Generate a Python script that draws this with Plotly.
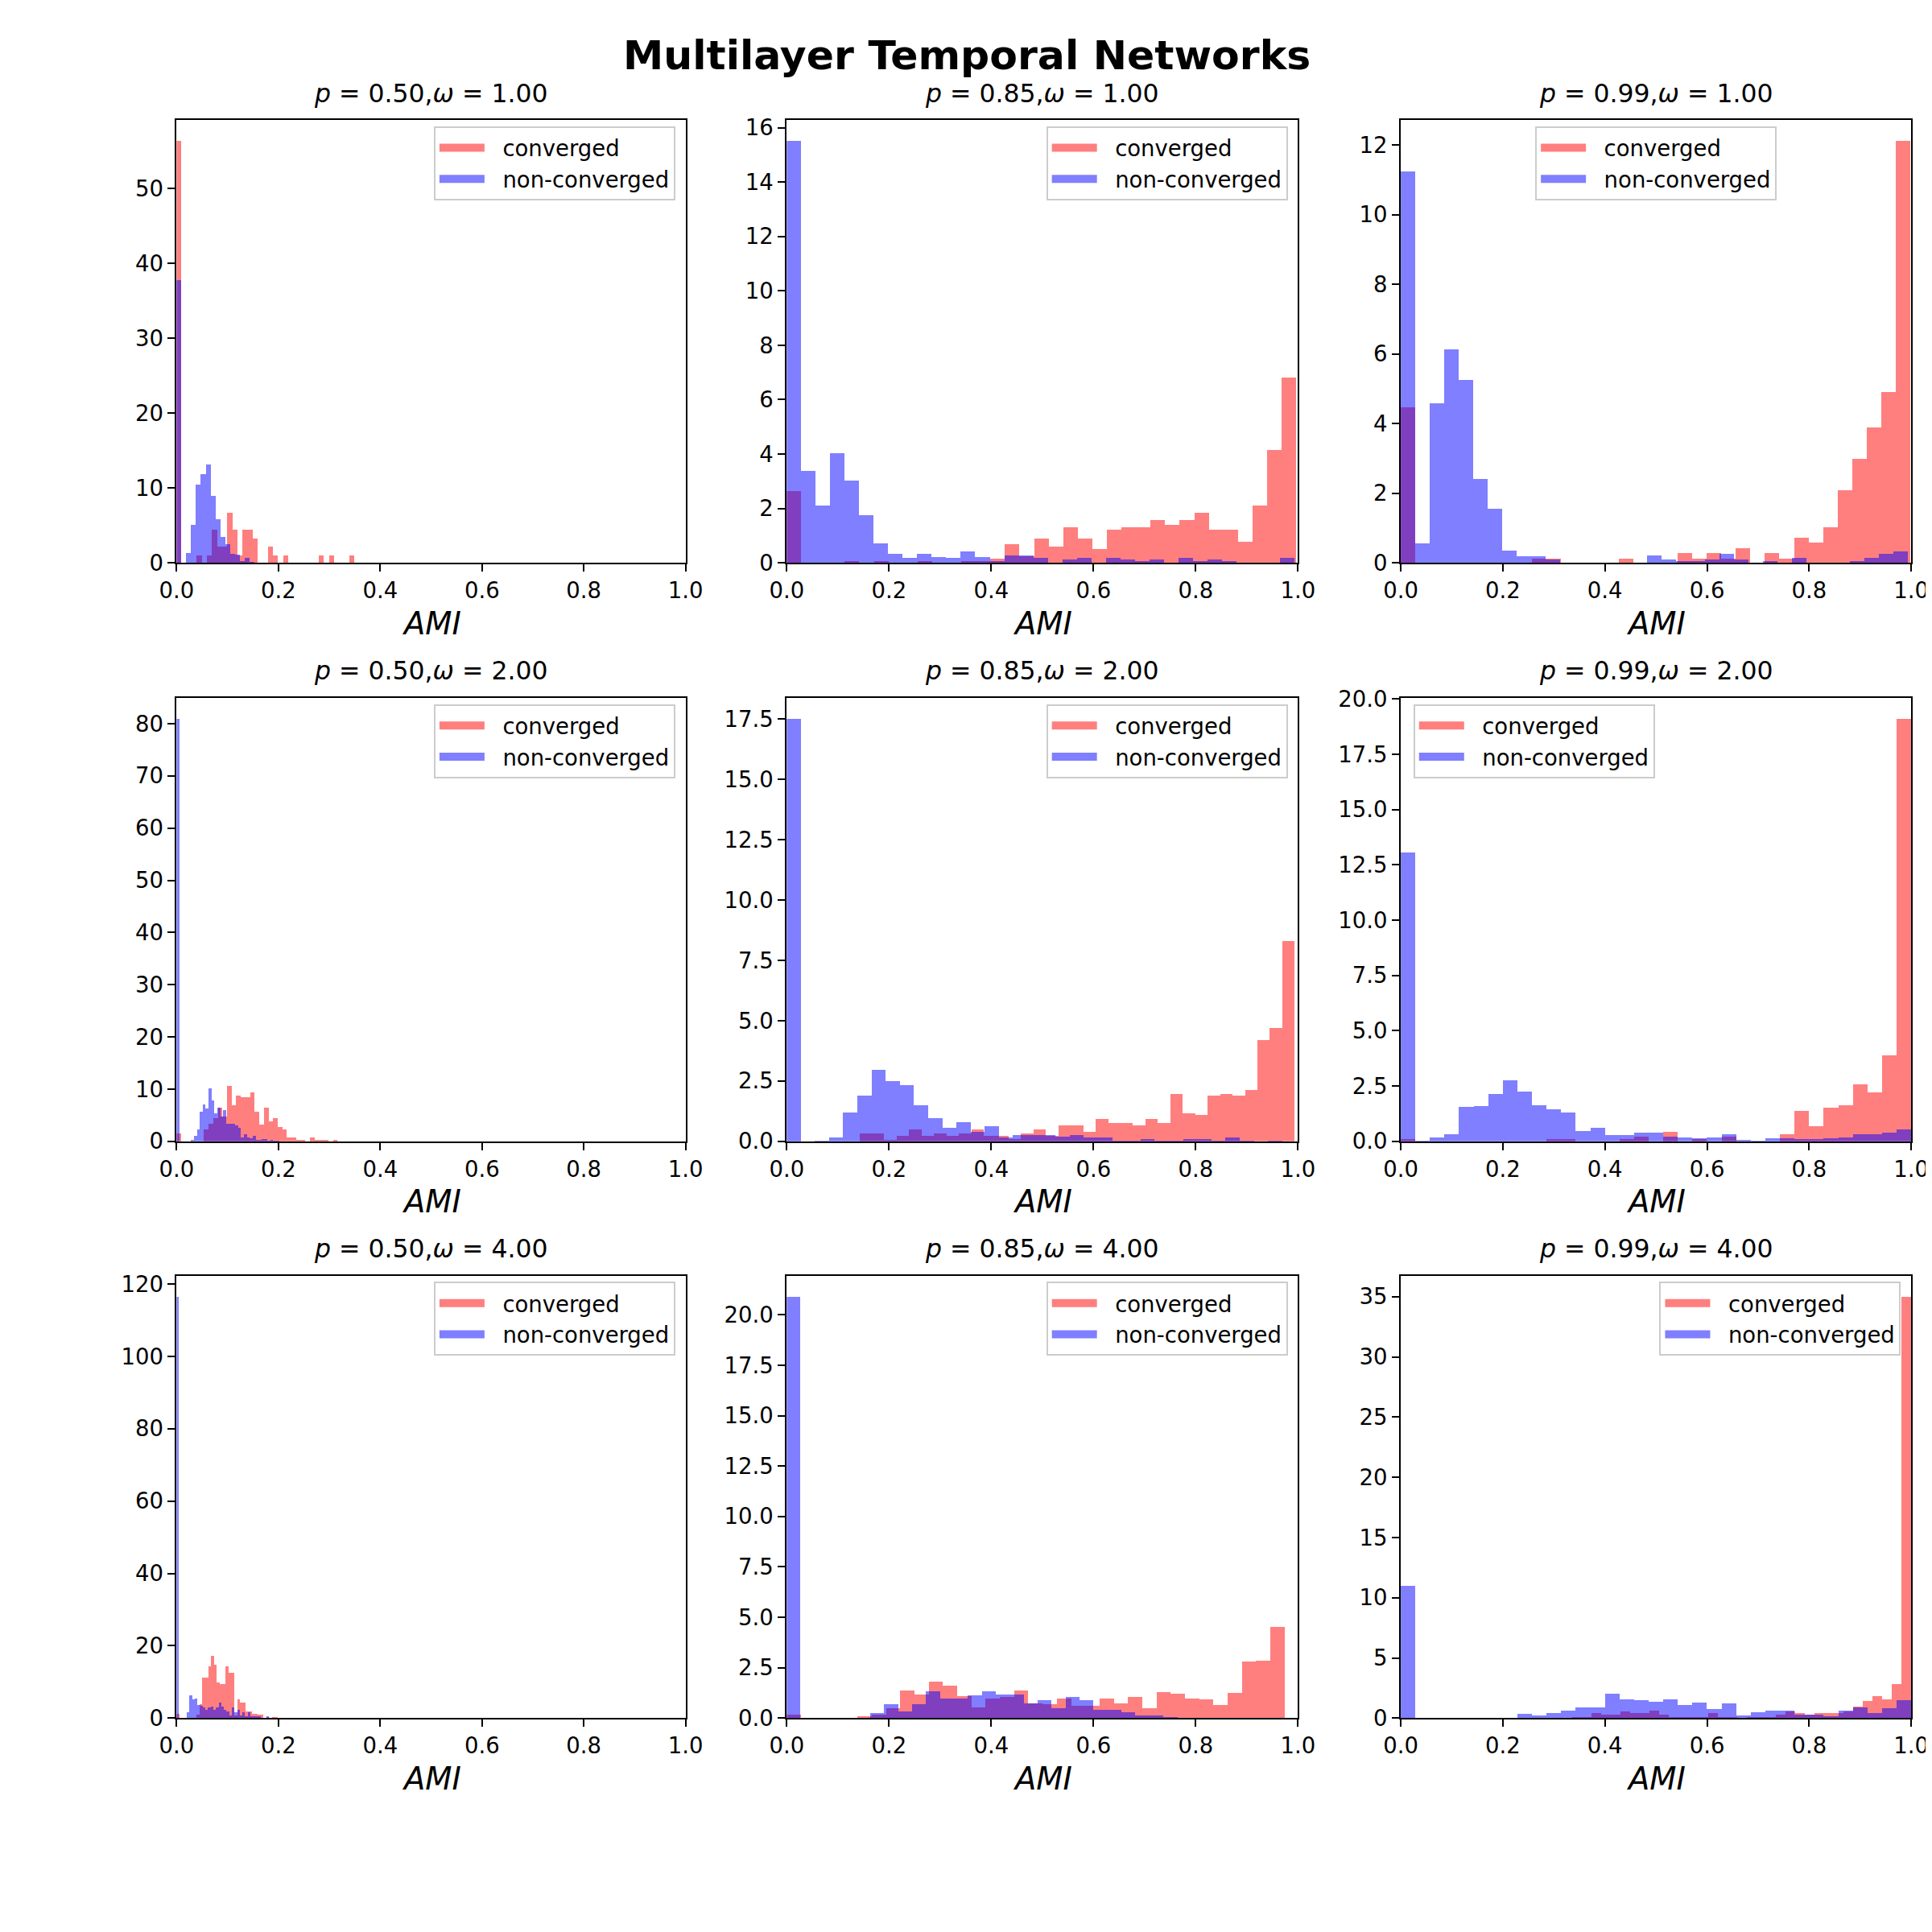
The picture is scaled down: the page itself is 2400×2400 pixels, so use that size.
import numpy as np
import plotly.graph_objects as go

p_labels = ["0.50", "0.85", "0.99"]
omega_labels = ["1.00", "2.00", "4.00"]

# density of each of the 35 histogram bins
# range = [first bin edge, last bin edge]

# p = 0.50, omega = 1
conv_p050_w1 = [56.3, 0, 0, 0, 0.9, 0, 0.9, 4.4, 2.1, 2.1, 6.6, 4.4, 0.9, 4.4, 4.4, 3.2, 0, 0,
                2.1, 0.9, 0, 0.9, 0, 0, 0, 0, 0, 0, 0.9, 0, 0.9, 0, 0, 0, 0.9]
conv_p050_w1_range = [0.0, 0.350]
nonconv_p050_w1 = [37.7, 0, 1.3, 5.0, 10.4, 11.8, 13.1, 8.9, 5.8, 3.4, 2.5, 1.2, 1.1, 0.2, 0.6, 0.1,
                   0, 0, 0, 0, 0, 0, 0, 0, 0, 0, 0, 0, 0, 0, 0, 0, 0, 0, 0]
nonconv_p050_w1_range = [0.0, 0.337]

# p = 0.85, omega = 1
conv_p085_w1 = [2.62, 0, 0, 0, 0.06, 0, 0.06, 0, 0, 0.06, 0, 0, 0.06, 0.06, 0.15, 0.68, 0.23, 0.87,
                0.6, 1.3, 0.87, 0.51, 1.22, 1.3, 1.3, 1.56, 1.39, 1.56, 1.83, 1.21, 1.21, 0.77, 2.09,
                4.15, 6.79]
conv_p085_w1_range = [0.0, 0.997]
nonconv_p085_w1 = [15.5, 3.37, 2.09, 4.01, 3.0, 1.74, 0.70, 0.32, 0.17, 0.32, 0.2, 0.17, 0.41, 0.2,
                   0.06, 0.26, 0.26, 0.17, 0, 0.11, 0.17, 0, 0.17, 0.11, 0.06, 0.11, 0, 0.17, 0.06,
                   0.11, 0.06, 0, 0, 0, 0.17]
nonconv_p085_w1_range = [0.0, 0.994]

# p = 0.99, omega = 1
conv_p099_w1 = [4.47, 0, 0, 0, 0, 0, 0, 0, 0, 0.11, 0.11, 0, 0, 0, 0, 0.11, 0, 0, 0, 0.27, 0.11,
                0.27, 0.11, 0.41, 0, 0.27, 0.11, 0.72, 0.57, 1.01, 2.07, 2.97, 3.87, 4.91, 12.11]
conv_p099_w1_range = [0.0, 0.9986]
nonconv_p099_w1 = [11.23, 0.55, 4.58, 6.12, 5.25, 2.41, 1.54, 0.34, 0.19, 0.19, 0.09, 0, 0, 0, 0, 0,
                   0, 0.2, 0.09, 0.04, 0.04, 0.09, 0.25, 0.09, 0, 0.04, 0, 0.13, 0, 0, 0, 0.04,
                   0.13, 0.25, 0.31]
nonconv_p099_w1_range = [0.0, 0.993]

# p = 0.50, omega = 2
conv_p050_w2 = [1.5, 0, 0, 0, 0, 0, 2.3, 3.4, 4.4, 6.4, 4.8, 10.6, 6.9, 8.8, 8.4, 8.4, 9.3, 5.6, 3.2,
                6.5, 3.9, 4.4, 2.8, 2.3, 0.8, 0.8, 0.3, 0.3, 0, 0.8, 0.3, 0.3, 0.3, 0, 0.3]
conv_p050_w2_range = [0.0, 0.317]
nonconv_p050_w2 = [80.9, 0, 0, 0, 0, 0.3, 1.1, 2.3, 5.6, 7.1, 6.3, 10.1, 7.8, 5.4, 6.4, 4.8, 6.0,
                   3.4, 3.4, 3.4, 3.0, 2.6, 0.8, 1.3, 0.8, 0.6, 1.0, 0.3, 0.3, 0.4, 0.4, 0.2, 0.3,
                   0.1, 0.2]
nonconv_p050_w2_range = [0.0, 0.202]

# p = 0.85, omega = 2
conv_p085_w2 = [0.34, 0.34, 0.06, 0.23, 0.5, 0.23, 0.34, 0.23, 0.34, 0.5, 0.23, 0.23, 0.1, 0.34,
                0.5, 0.23, 0.66, 0.66, 0.4, 0.93, 0.77, 0.77, 0.66, 0.93, 0.77, 1.96, 1.17, 1.11,
                1.88, 1.96, 1.88, 2.14, 4.21, 4.69, 8.29]
conv_p085_w2_range = [0.1426, 0.994]
nonconv_p085_w2 = [17.5, 0, 0.04, 0.17, 1.21, 1.9, 2.96, 2.51, 2.33, 1.49, 0.96, 0.55, 0.79, 0.38,
                   0.63, 0.17, 0.26, 0.26, 0.26, 0.19, 0.26, 0.17, 0.17, 0.04, 0.04, 0.1, 0.04,
                   0.04, 0.1, 0.1, 0.04, 0.17, 0.04, 0, 0.04]
nonconv_p085_w2_range = [0.0, 0.9695]

# p = 0.99, omega = 2
conv_p099_w2 = [0.11, 0, 0, 0, 0, 0, 0, 0, 0, 0, 0.11, 0.11, 0, 0, 0, 0.11, 0.21, 0, 0.43, 0, 0.11,
                0, 0.21, 0, 0, 0, 0.32, 1.38, 0.68, 1.53, 1.63, 2.57, 2.21, 3.89, 19.1]
conv_p099_w2_range = [0.0, 1.0]
nonconv_p099_w2 = [13.08, 0.03, 0.18, 0.32, 1.56, 1.6, 2.14, 2.75, 2.25, 1.63, 1.44, 1.31, 0.47,
                   0.61, 0.29, 0.29, 0.39, 0.39, 0.21, 0.18, 0.14, 0.18, 0.32, 0.07, 0.03, 0.14,
                   0.14, 0.11, 0.11, 0.14, 0.18, 0.32, 0.32, 0.38, 0.54]
nonconv_p099_w2_range = [0.0, 1.0]

# p = 0.50, omega = 4
conv_p050_w4 = [1.4, 0, 0, 0, 0, 0, 0, 1.0, 4.0, 11.3, 11.3, 14.4, 17.3, 14.8, 9.9, 9.5, 9.5, 14.4,
                12.7, 12.7, 0.8, 5.3, 4.4, 4.4, 1.9, 1.9, 1.4, 1.4, 1.0, 1.0, 0, 0.4, 0, 0.4, 0.4]
conv_p050_w4_range = [0.0, 0.1995]
nonconv_p050_w4 = [116.5, 0, 0, 0, 1.7, 6.3, 5.3, 5.5, 3.8, 3.6, 3.0, 2.5, 3.0, 3.4, 2.5, 3.1, 4.4,
                   3.4, 2.3, 1.9, 0.8, 3.0, 1.7, 2.5, 0.8, 1.7, 0.7, 1.7, 0.7, 0.7, 0.7, 0.7, 0, 0,
                   0.7]
nonconv_p050_w4_range = [0.0, 0.182]

# p = 0.85, omega = 4
conv_p085_w4 = [0.2, 0, 0, 0, 0, 0.1, 0.2, 0.53, 1.4, 1.18, 1.82, 1.62, 1.1, 0.56, 0.98, 1.09, 1.4,
                0.76, 0.7, 0.98, 0.65, 0.65, 0.98, 0.74, 1.06, 0.53, 1.32, 1.23, 0.98, 0.94, 0.67,
                1.25, 2.81, 2.86, 4.56]
conv_p085_w4_range = [0.0, 0.974]
nonconv_p085_w4 = [20.9, 0, 0, 0, 0, 0, 0.27, 0.71, 0.35, 0.71, 1.35, 0.98, 0.98, 1.14, 1.35, 1.18,
                   1.18, 0.76, 0.91, 0.53, 1.06, 0.91, 0.43, 0.43, 0.33, 0.15, 0.15, 0.08, 0, 0.05,
                   0, 0, 0, 0.05, 0.05]
nonconv_p085_w4_range = [0.0, 0.9555]

# p = 0.99, omega = 4
conv_p099_w4 = [0.1, 0.1, 0.46, 0.3, 0.3, 0.6, 0.46, 0.46, 0.66, 0.3, 0.1, 0.1, 0.1, 0.1, 0.46, 0.1,
                0.1, 0, 0.1, 0.1, 0.1, 0.3, 0.6, 0.46, 0.3, 0.46, 0.46, 0.46, 0.6, 1.0, 1.45, 1.86,
                1.58, 2.87, 35.0]
conv_p099_w4_range = [0.336, 1.0]
nonconv_p099_w4 = [11.0, 0, 0, 0, 0, 0, 0, 0, 0.38, 0.25, 0.46, 0.66, 0.94, 0.94, 2.06, 1.58, 1.53,
                   1.4, 1.58, 1.12, 1.32, 0.79, 1.25, 0.25, 0.53, 0.66, 0.66, 0.33, 0.33, 0.2, 0.66,
                   0.94, 0.46, 0.86, 1.53]
nonconv_p099_w4_range = [0.0, 1.0]

# rows = omega, cols = p
panels = [
    (conv_p050_w1, conv_p050_w1_range, nonconv_p050_w1, nonconv_p050_w1_range),
    (conv_p085_w1, conv_p085_w1_range, nonconv_p085_w1, nonconv_p085_w1_range),
    (conv_p099_w1, conv_p099_w1_range, nonconv_p099_w1, nonconv_p099_w1_range),
    (conv_p050_w2, conv_p050_w2_range, nonconv_p050_w2, nonconv_p050_w2_range),
    (conv_p085_w2, conv_p085_w2_range, nonconv_p085_w2, nonconv_p085_w2_range),
    (conv_p099_w2, conv_p099_w2_range, nonconv_p099_w2, nonconv_p099_w2_range),
    (conv_p050_w4, conv_p050_w4_range, nonconv_p050_w4, nonconv_p050_w4_range),
    (conv_p085_w4, conv_p085_w4_range, nonconv_p085_w4, nonconv_p085_w4_range),
    (conv_p099_w4, conv_p099_w4_range, nonconv_p099_w4, nonconv_p099_w4_range),
]

# ---- layout ----
# positions are page pixels (the figure sits 8px in, behind the page margin)
W = H = 2400
OFF = 8
col_px = [(201, 845), (973, 1620), (1750, 2396)]
row_px = [(136, 693), (863, 1421), (1590, 2147)]
y_dtick = [10, 2, 2, 10, 2.5, 2.5, 20, 2.5, 5]
y_fmt = ["d", "d", "d", "d", ".1f", ".1f", "d", ".1f", "d"]
legend_loc = ["right", "right", "center", "right", "right", "left", "right", "right", "right"]

FONT = "DejaVu Sans"
RED = "rgba(255,0,0,0.5)"
BLUE = "rgba(0,0,255,0.5)"
GAP = "\u00a0\u00a0"  # space between legend key and its label


def px_x(v):
    return (v - OFF) / W


def px_y(v):
    return 1 - (v - OFF) / H


def bars(heights, rng):
    edges = np.linspace(rng[0], rng[1], len(heights) + 1)
    centers = (edges[:-1] + edges[1:]) / 2
    return centers, edges[1] - edges[0]


fig = go.Figure()
layout = dict(
    width=W, height=H,
    margin=dict(l=0, r=0, t=0, b=0),
    paper_bgcolor="white", plot_bgcolor="white",
    barmode="overlay", bargap=0,
    font=dict(family=FONT, color="black"),
    annotations=[],
)

for k, (conv, conv_rng, nonconv, nonconv_rng) in enumerate(panels):
    r, c = divmod(k, 3)
    sfx = "" if k == 0 else str(k + 1)
    leg = "legend" + sfx
    xa, ya = "x" + sfx, "y" + sfx

    xc, wc = bars(conv, conv_rng)
    fig.add_trace(go.Bar(x=xc, y=conv, width=wc, name="converged", showlegend=False,
                         marker=dict(color=RED, line=dict(width=0)),
                         xaxis=xa, yaxis=ya))
    xn, wn = bars(nonconv, nonconv_rng)
    fig.add_trace(go.Bar(x=xn, y=nonconv, width=wn, name="non-converged", showlegend=False,
                         marker=dict(color=BLUE, line=dict(width=0)),
                         xaxis=xa, yaxis=ya))
    # legend keys drawn as thick strokes, like matplotlib's patch handles
    for name, col in (("converged", RED), ("non-converged", BLUE)):
        fig.add_trace(go.Scatter(x=[None], y=[None], mode="lines", name=GAP + name,
                                 line=dict(color=col, width=20),
                                 xaxis=xa, yaxis=ya, legend=leg))

    x0, x1 = col_px[c]
    y0, y1 = row_px[r]
    ymax = 1.05 * max(max(conv), max(nonconv))

    axis_common = dict(showline=True, linecolor="black", linewidth=2, mirror=True,
                       ticks="outside", ticklen=9, tickwidth=2, tickcolor="black",
                       showgrid=False, zeroline=False,
                       tickfont=dict(size=27.5, family=FONT, color="black"))
    layout["xaxis" + sfx] = dict(axis_common, domain=[px_x(x0), px_x(x1)], range=[0, 1],
                                 tickvals=[0, 0.2, 0.4, 0.6, 0.8, 1.0], tickformat=".1f",
                                 anchor=ya)
    layout["yaxis" + sfx] = dict(axis_common, domain=[px_y(y1), px_y(y0)], range=[0, ymax],
                                 dtick=y_dtick[k], tick0=0, tickformat=y_fmt[k],
                                 anchor=xa)

    loc = legend_loc[k]
    if loc == "right":
        lx, lxa = px_x(x1 - 13), "right"
    elif loc == "left":
        lx, lxa = px_x(x0 + 16), "left"
    else:
        lx, lxa = px_x((x0 + x1) / 2), "center"
    layout[leg] = dict(x=lx, xanchor=lxa, y=px_y(y0 + 8), yanchor="top",
                       bgcolor="rgba(255,255,255,0.8)", bordercolor="#cccccc", borderwidth=2,
                       font=dict(size=27.5, family=FONT, color="black"),
                       traceorder="normal", itemwidth=56)

    layout["annotations"].append(dict(
        text=f"<i>p</i> = {p_labels[c]},<i>ω</i> = {omega_labels[r]}",
        x=px_x((x0 + x1) / 2), y=px_y(y0 - 34), xref="paper", yref="paper",
        xanchor="center", yanchor="middle", showarrow=False,
        font=dict(size=31.5, family=FONT, color="black")))
    layout["annotations"].append(dict(
        text="<i>AMI</i>",
        x=px_x((x0 + x1) / 2), y=px_y(y1 + 76), xref="paper", yref="paper",
        xanchor="center", yanchor="middle", showarrow=False,
        font=dict(size=38.5, family=FONT, color="black")))

layout["annotations"].append(dict(
    text="<b>Multilayer Temporal Networks</b>",
    x=px_x(1201), y=px_y(54), xref="paper", yref="paper",
    xanchor="center", yanchor="middle", showarrow=False,
    font=dict(size=50.5, family=FONT, color="black")))

fig.update_layout(**layout)
fig.write_html("out.html")
